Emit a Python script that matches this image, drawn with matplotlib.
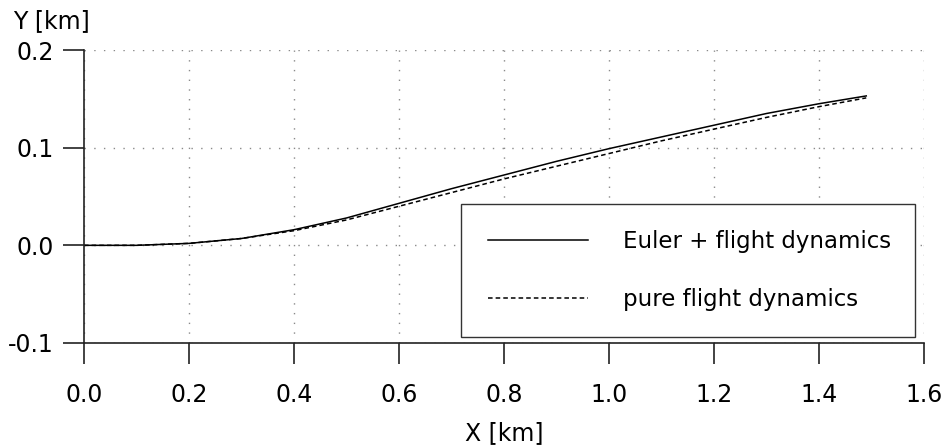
import matplotlib.pyplot as plt
import numpy as np

# trajectory in the horizontal plane [km]
x_euler = [0.0, 0.1, 0.2, 0.3, 0.4, 0.5, 0.6, 0.7, 0.8, 0.9, 1.0, 1.1, 1.2, 1.3, 1.4, 1.49]
y_euler = [0.0, 0.0, 0.002, 0.007, 0.016, 0.028, 0.043, 0.058, 0.072, 0.086, 0.099,
           0.111, 0.123, 0.135, 0.145, 0.153]

x_pure = [0.0, 0.1, 0.2, 0.3, 0.4, 0.5, 0.6, 0.7, 0.8, 0.9, 1.0, 1.1, 1.2, 1.3, 1.4, 1.49]
y_pure = [0.0, 0.0, 0.002, 0.007, 0.015, 0.026, 0.040, 0.054, 0.068, 0.081, 0.094,
          0.107, 0.119, 0.131, 0.142, 0.151]

x_ticks = [0.0, 0.2, 0.4, 0.6, 0.8, 1.0, 1.2, 1.4, 1.6]
y_ticks = [-0.1, 0.0, 0.1, 0.2]

plt.rcParams["font.family"] = "DejaVu Sans"
plt.rcParams["font.size"] = 17

fig = plt.figure(figsize=(9.47, 4.47), dpi=100)
ax = fig.add_axes([0.0887, 0.2327, 0.887, 0.6554])

ax.plot(x_euler, y_euler, color="black", lw=1.1, label="Euler + flight dynamics")
ax.plot(x_pure, y_pure, color="black", lw=1.1, ls=(0, (3, 2)), label="pure flight dynamics")

ax.set_xlim(0.0, 1.6)
ax.set_ylim(-0.1, 0.2)
ax.set_xticks(x_ticks)
ax.set_yticks(y_ticks)
ax.set_xticklabels([f"{v:.1f}" for v in x_ticks])
ax.set_yticklabels([f"{v:.1f}" for v in y_ticks])

ax.grid(True, color="#8a8a8a", lw=1.0, ls=(0, (1, 6)))
for side in ("top", "right"):
    ax.spines[side].set_visible(False)
for side in ("left", "bottom"):
    ax.spines[side].set_linewidth(1.2)
    ax.spines[side].set_color("#222222")

ax.tick_params(axis="both", direction="out", length=15, width=1.2, color="#222222")
ax.tick_params(axis="y", pad=7)
ax.tick_params(axis="x", pad=14)

ax.text(-0.085, 1.10, "Y [km]", transform=ax.transAxes, ha="left", va="center")
ax.set_xlabel("X [km]", labelpad=10)

leg = ax.legend(loc="lower left", bbox_to_anchor=(0.449, 0.02, 0.54, 0.47),
                mode="expand", frameon=True, fancybox=False, fontsize=16.5,
                handlelength=4.4, handletextpad=1.5, labelspacing=1.5,
                borderpad=1.15, borderaxespad=0)
leg.get_frame().set_edgecolor("#333333")
leg.get_frame().set_linewidth(1.0)
leg.get_frame().set_alpha(1.0)

fig.savefig("out.png", dpi=100)
